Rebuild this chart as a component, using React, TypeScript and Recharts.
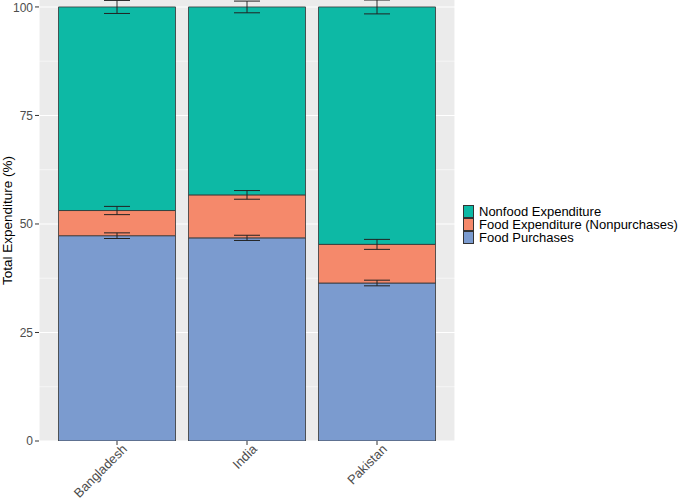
import React from 'react';
import { BarChart, Bar, XAxis, YAxis, CartesianGrid, ErrorBar } from 'recharts';

const countries = ['Bangladesh', 'India', 'Pakistan'];
const foodPurchases = [47.3, 46.8, 36.4];
const foodNonpurchases = [5.8, 9.9, 8.9];
const nonfood = [46.9, 43.3, 54.7];
const foodPurchasesErr = [0.65, 0.6, 0.65];
const foodNonpurchasesErr = [0.95, 1.0, 1.15];
const nonfoodErr = [1.5, 1.35, 1.6];

const yTicks = [0, 25, 50, 75, 100];
const yMinor = [12.5, 37.5, 62.5, 87.5];

const series = [
  { key: 'fp', err: 'fpErr', name: 'Food Purchases', color: '#7B9BCF' },
  { key: 'np', err: 'npErr', name: 'Food Expenditure (Nonpurchases)', color: '#F5896B' },
  { key: 'nf', err: 'nfErr', name: 'Nonfood Expenditure', color: '#0DB9A5' },
];

const data = countries.map((c, i) => ({
  country: c,
  fp: foodPurchases[i],
  np: foodNonpurchases[i],
  nf: nonfood[i],
  fpErr: foodPurchasesErr[i],
  npErr: foodNonpurchasesErr[i],
  nfErr: nonfoodErr[i],
}));

const FONT = '"Liberation Sans", Arial, Helvetica, sans-serif';

function XTick(props: any) {
  const { x, y, payload } = props;
  return (
    <g transform={`translate(${x + 4},${y - 4})`}>
      <text
        x={0}
        y={0}
        dy="0.75em"
        textAnchor="end"
        transform="rotate(-45)"
        fill="#4D4D4D"
        fontSize={13}
        fontFamily={FONT}
      >
        {payload.value}
      </text>
    </g>
  );
}

function LegendBox() {
  return (
    <div
      style={{
        position: 'absolute',
        left: 463,
        top: 205,
        fontFamily: FONT,
        fontSize: 13,
        color: '#000',
      }}
    >
      {[...series].reverse().map((s) => (
        <div key={s.key} style={{ display: 'flex', alignItems: 'center', height: 13 }}>
          <span
            style={{
              width: 11,
              height: 12.5,
              background: s.color,
              border: '0.7px solid #333',
              boxSizing: 'border-box',
              marginRight: 5,
            }}
          />
          <span style={{ lineHeight: '13px', whiteSpace: 'nowrap' }}>{s.name}</span>
        </div>
      ))}
    </div>
  );
}

export default function App() {
  return (
    <div style={{ position: 'absolute', left: 0, top: 0, width: 681, height: 500 }}>
      <BarChart
        width={681}
        height={500}
        data={data}
        margin={{ top: 0, right: 226, bottom: 0, left: 0 }}
        barCategoryGap="5%"
        style={{ fontFamily: FONT }}
      >
        <CartesianGrid
          fill="#EBEBEB"
          stroke="#FFFFFF"
          strokeWidth={0.55}
          horizontalValues={yMinor}
          vertical={false}
        />
        <CartesianGrid stroke="#FFFFFF" strokeWidth={1.1} horizontalValues={yTicks} />
        <XAxis
          dataKey="country"
          padding={{ left: 13, right: 13 }}
          axisLine={false}
          tickLine={{ stroke: '#333333' }}
          tickSize={4}
          height={59}
          interval={0}
          tick={<XTick />}
        />
        <YAxis
          width={39}
          domain={[0, 101.6]}
          ticks={yTicks}
          allowDataOverflow
          axisLine={false}
          tickLine={{ stroke: '#333333' }}
          tickSize={4}
          tickMargin={2}
          tick={{ fill: '#4D4D4D', fontSize: 12, fontFamily: FONT }}
          label={{
            value: 'Total Expenditure (%)',
            angle: -90,
            position: 'insideLeft',
            offset: 7,
            style: { textAnchor: 'middle', fill: '#000', fontSize: 13.5, fontFamily: FONT },
          }}
        />
        {series.map((s) => (
          <Bar
            key={s.key}
            dataKey={s.key}
            name={s.name}
            stackId="a"
            fill={s.color}
            stroke="#333333"
            strokeWidth={0.8}
            isAnimationActive={false}
          >
            <ErrorBar dataKey={s.err} width={13} stroke="#222222" strokeWidth={1} direction="y" />
          </Bar>
        ))}
      </BarChart>
      <LegendBox />
    </div>
  );
}
